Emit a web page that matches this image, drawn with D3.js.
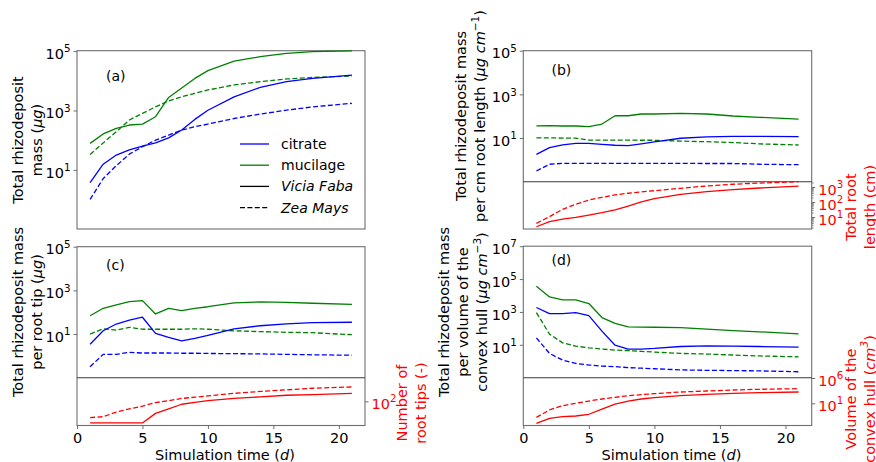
<!DOCTYPE html>
<html><head><meta charset="utf-8">
<script src="https://cdn.jsdelivr.net/npm/d3@7"></script>
<style>
body{margin:0;background:#fff}
svg{display:block}
text{font-family:"DejaVu Sans",sans-serif;fill:#000}
</style>
</head><body>
<svg id="fig" width="876" height="462"></svg>
<script>
// Simulation days at which the outputs are reported
const days = [1,2,3,4,5,6,7,8,9,10,12,14,16,18,21];
const xTicks = [0,5,10,15,20];

// (a) total rhizodeposit mass (µg)
const aCitrateVicia  = [3.7,15.5,31.6,46.8,63.1,81.3,120,219,501,1020,2880,6030,9330,12000,15500];
const aCitrateZea    = [1.02,5.1,13.8,33.9,60.3,100,148,219,282,347,537,759,1020,1320,1740];
const aMucilageVicia = [78,162,251,324,347,617,2750,5750,12000,21900,45700,64600,83200,95500,102000];
const aMucilageZea   = [33,81,191,479,794,1320,2090,2880,3800,4900,7240,9330,11500,12900,14500];
const aTicks = [1e1,1e3,1e5];

// (b) per cm root length (µg cm^-1) and total root length (cm)
const bCitrateVicia  = [1.78,3.63,4.9,5.75,5.75,5.13,4.68,4.47,5.37,6.61,9.77,11.2,12.0,12.0,11.5];
const bCitrateZea    = [0.31,0.63,0.69,0.69,0.69,0.69,0.69,0.69,0.69,0.69,0.69,0.68,0.68,0.63,0.60];
const bMucilageVicia = [36.3,37.2,35.5,35.5,33.1,43.7,105,105,126,126,135,126,102,89,74];
const bMucilageZea   = [10.2,10.2,10.0,9.8,8.1,8.1,8.1,8.1,7.9,7.9,7.2,6.8,6.2,5.4,4.8];
const bLengthVicia   = [2.24,4.9,7.1,9.5,13.5,19.5,29.5,53.7,100,166,324,490,661,851,1120];
const bLengthZea     = [3.8,10.5,32.4,70.8,135,204,295,380,468,562,813,1170,1510,1820,2240];
const bTicks = [1e1,1e3,1e5];
const bRightTicks = [1e1,1e2,1e3];

// (c) per root tip (µg) and number of root tips (-)
const cCitrateVicia  = [3.4,14.1,28.8,43.7,58.9,10.7,7.1,4.9,6.3,8.7,17.4,24.0,29.5,33.1,34.7];
const cCitrateZea    = [0.32,1.17,1.17,1.45,1.35,1.35,1.35,1.32,1.32,1.29,1.26,1.23,1.17,1.12,1.07];
const cMucilageVicia = [69,151,219,302,339,83,151,117,151,178,269,295,282,257,229];
const cMucilageZea   = [10,17.4,15.1,20.4,16.6,16.6,16.6,16.6,17.4,16.6,14.1,12.9,12.0,11.5,9.3];
const cTipsVicia     = [21,21,21,21,21,42,58,81,93,105,123,138,155,162,178];
const cTipsZea       = [31,33,46,58,71,91,105,123,135,148,178,204,229,257,282];
const cTicks = [1e1,1e3,1e5];
const cRightTicks = [1e2];

// (d) per volume of the convex hull (µg cm^-3) and hull volume (cm^3)
const dCitrateVicia  = [1860,794,794,912,603,68,9.5,5.5,5.5,6.0,7.9,8.7,8.3,7.9,7.2];
const dCitrateZea    = [26.3,3.0,1.17,0.74,0.59,0.51,0.47,0.41,0.38,0.35,0.30,0.28,0.27,0.26,0.23];
const dMucilageVicia = [36300,8130,5370,5370,3240,457,200,123,120,117,112,89,74,62,47];
const dMucilageZea   = [912,44.7,13.2,8.3,6.6,5.5,4.8,4.4,4.0,3.6,3.0,2.75,2.4,2.1,1.86];
const dVolumeVicia   = [0.0011,0.011,0.023,0.031,0.068,0.74,7.2,28,71,129,316,603,955,1260,1700];
const dVolumeZea     = [0.017,0.48,3.4,10,28,71,155,316,513,794,1700,2690,4270,5890,7760];
const dTicks = [1e1,1e3,1e5,1e7];
const dRightTicks = [1e1,1e6];

const BLUE = "#0000ff", GREEN = "#008000", RED = "#ff0000";
const SPINE = "#6e6e6e";
const DASH = "5,2.4";
const LW = 1.3;
const TICK_FS = 14.5, LABEL_FS = 14.5;

const svg = d3.select("#fig");

// rich text helper: parts = [{t, i (italic), sup (superscript)}]
function rich(sel, parts, supShift, supSize) {
  let raised = false;
  parts.forEach(p => {
    const ts = sel.append("tspan").text(p.t);
    if (p.i) ts.attr("font-style", "italic");
    if (p.sup && !raised) { ts.attr("dy", -supShift).attr("font-size", supSize); raised = true; }
    else if (p.sup) { ts.attr("font-size", supSize); }
    else if (raised) { ts.attr("dy", supShift); raised = false; }
  });
}

function powerLabel(sel, v, color) {
  const e = Math.round(Math.log10(v));
  sel.text(null);
  sel.append("tspan").text("10");
  sel.append("tspan").attr("dy", -6.6).attr("font-size", 10.3).text(String(e));
  if (color) sel.style("fill", color);
}

function addLine(g, x, y, vals, color, dashed) {
  g.append("path")
    .datum(vals.map((v, i) => [days[i], v]))
    .attr("fill", "none")
    .attr("stroke", color)
    .attr("stroke-width", LW)
    .attr("stroke-linejoin", "round")
    .attr("stroke-dasharray", dashed ? DASH : null)
    .attr("d", d3.line().x(d => x(d[0])).y(d => y(d[1])));
}

function styleAxis(g) {
  g.select(".domain").remove();
  g.selectAll(".tick line").attr("stroke", SPINE).attr("stroke-width", 1);
  g.selectAll(".tick text").attr("font-size", TICK_FS).attr("font-family", "DejaVu Sans");
}

function leftAxis(y, x0, ticks) {
  const g = svg.append("g").attr("transform", `translate(${x0},0)`)
    .call(d3.axisLeft(y).tickValues(ticks).tickSize(3.5).tickPadding(3));
  styleAxis(g);
  g.selectAll(".tick text").each(function (d) { powerLabel(d3.select(this), d); })
    .attr("dy", "0.5em");
}

function rightAxis(y, x1, ticks, minor) {
  if (minor) {
    const mg = svg.append("g").attr("transform", `translate(${x1},0)`)
      .call(d3.axisRight(y).tickValues(minor).tickSize(2).tickFormat(""));
    mg.select(".domain").remove();
    mg.selectAll(".tick line").attr("stroke", SPINE).attr("stroke-width", 0.8);
  }
  const g = svg.append("g").attr("transform", `translate(${x1},0)`)
    .call(d3.axisRight(y).tickValues(ticks).tickSize(3.5).tickPadding(3));
  styleAxis(g);
  g.selectAll(".tick text").each(function (d) { powerLabel(d3.select(this), d, RED); })
    .attr("dy", "0.5em");
}

function bottomAxis(x, y0) {
  const g = svg.append("g").attr("transform", `translate(0,${y0})`)
    .call(d3.axisBottom(x).tickValues(xTicks).tickSize(3.5).tickPadding(2.5));
  styleAxis(g);
  g.selectAll(".tick text").attr("dy", "0.78em");
}

function frame(x0, x1, top, bottom, divider) {
  svg.append("rect").attr("x", x0).attr("y", top).attr("width", x1 - x0).attr("height", bottom - top)
    .attr("fill", "none").attr("stroke", SPINE).attr("stroke-width", 1.1);
  if (divider != null) {
    svg.append("line").attr("x1", x0).attr("x2", x1).attr("y1", divider).attr("y2", divider)
      .attr("stroke", "#3a3a3a").attr("stroke-width", 1.1);
  }
}

function vLabel(cx, cy, lines, color, size) {
  const gap = 19;
  const n = lines.length;
  lines.forEach((parts, k) => {
    const x = cx + (k - (n - 1) / 2) * gap;
    const t = svg.append("text")
      .attr("transform", `translate(${x},${cy}) rotate(-90)`)
      .attr("text-anchor", "middle")
      .attr("dominant-baseline", "central")
      .attr("font-size", size || LABEL_FS);
    if (color) t.style("fill", color);
    rich(t, parts, 5.5, 10.5);
  });
}

function panelTag(x, y, s) {
  svg.append("text").attr("x", x).attr("y", y).attr("font-size", 14).text(s);
}

function minorTicks(lo, hi) {
  const out = [];
  for (let e = Math.floor(Math.log10(lo)); e <= Math.ceil(Math.log10(hi)); e++) {
    for (let k = 2; k <= 9; k++) {
      const v = k * Math.pow(10, e);
      if (v >= lo && v <= hi) out.push(v);
    }
  }
  return out;
}

// ---- layout
const L0 = 77, L1 = 365, R0 = 523.3, R1 = 811.7;
const xL = d3.scaleLinear().domain([0, 22]).range([L0, L1]);
const xR = d3.scaleLinear().domain([0, 22]).range([R0, R1]);

// ---- (a)
{
  const top = 50.7, bottom = 229;
  const y = d3.scaleLog().domain([0.102, 103000]).range([bottom, top]);
  frame(L0, L1, top, bottom);
  const g = svg.append("g");
  addLine(g, xL, y, aMucilageVicia, GREEN, false);
  addLine(g, xL, y, aMucilageZea, GREEN, true);
  addLine(g, xL, y, aCitrateVicia, BLUE, false);
  addLine(g, xL, y, aCitrateZea, BLUE, true);
  leftAxis(y, L0, aTicks);
  panelTag(106, 81, "(a)");
  vLabel(27, 140, [[{t:"Total rhizodeposit"}], [{t:"mass ("},{t:"μg",i:true},{t:")"}]]);

  // legend
  const items = [
    {label:[{t:"citrate"}], color:BLUE, dash:false},
    {label:[{t:"mucilage"}], color:GREEN, dash:false},
    {label:[{t:"Vicia",i:true},{t:" "},{t:"Faba",i:true}], color:"#000", dash:false},
    {label:[{t:"Zea",i:true},{t:" "},{t:"Mays",i:true}], color:"#000", dash:true}
  ];
  items.forEach((it, k) => {
    const yy = 144 + k * 21.2;
    svg.append("line").attr("x1", 240).attr("x2", 269).attr("y1", yy).attr("y2", yy)
      .attr("stroke", it.color).attr("stroke-width", LW)
      .attr("stroke-dasharray", it.dash ? DASH : null);
    const t = svg.append("text").attr("x", 281).attr("y", yy).attr("dominant-baseline", "central")
      .attr("font-size", 14);
    rich(t, it.label, 5, 10);
  });
}

// ---- (b)
{
  const top = 50.7, div = 181.7, bottom = 229;
  const y = d3.scaleLog().domain([0.1, 1e5]).range([div, top]);
  const yr = d3.scaleLog().domain([1.585, 2240]).range([bottom, div]);
  frame(R0, R1, top, bottom, div);
  const g = svg.append("g");
  addLine(g, xR, y, bMucilageVicia, GREEN, false);
  addLine(g, xR, y, bMucilageZea, GREEN, true);
  addLine(g, xR, y, bCitrateVicia, BLUE, false);
  addLine(g, xR, y, bCitrateZea, BLUE, true);
  addLine(g, xR, yr, bLengthVicia, RED, false);
  addLine(g, xR, yr, bLengthZea, RED, true);
  leftAxis(y, R0, bTicks);
  rightAxis(yr, R1, bRightTicks, minorTicks(1.585, 2240));
  panelTag(551.5, 74.5, "(b)");
  vLabel(470.5, 116, [[{t:"Total rhizodeposit mass"}],
    [{t:"per cm root length ("},{t:"μg",i:true},{t:" "},{t:"cm",i:true},{t:"−1",sup:true},{t:")"}]]);
  vLabel(860, 207, [[{t:"Total root"}], [{t:"length (cm)"}]], RED);
}

// ---- (c)
{
  const top = 246.7, div = 377.7, bottom = 425.5;
  const y = d3.scaleLog().domain([0.1, 1e5]).range([div, top]);
  const yr = d3.scaleLog().domain([17.5, 550]).range([bottom, div]);
  frame(L0, L1, top, bottom, div);
  const g = svg.append("g");
  addLine(g, xL, y, cMucilageVicia, GREEN, false);
  addLine(g, xL, y, cMucilageZea, GREEN, true);
  addLine(g, xL, y, cCitrateVicia, BLUE, false);
  addLine(g, xL, y, cCitrateZea, BLUE, true);
  addLine(g, xL, yr, cTipsVicia, RED, false);
  addLine(g, xL, yr, cTipsZea, RED, true);
  leftAxis(y, L0, cTicks);
  rightAxis(yr, L1, cRightTicks);
  bottomAxis(xL, bottom);
  panelTag(106, 270, "(c)");
  vLabel(27.5, 312, [[{t:"Total rhizodeposit mass"}], [{t:"per root tip ("},{t:"μg",i:true},{t:")"}]]);
  vLabel(411, 403, [[{t:"Number of"}], [{t:"root tips (-)"}]], RED);
  const xl = svg.append("text").attr("x", (L0 + L1) / 2 + 4).attr("y", 459.5)
    .attr("text-anchor", "middle").attr("font-size", LABEL_FS);
  rich(xl, [{t:"Simulation time ("},{t:"d",i:true},{t:")"}], 5, 10);
}

// ---- (d)
{
  const top = 246.2, div = 377.7, bottom = 425.5;
  const y = d3.scaleLog().domain([0.1, 1e7]).range([div, top]);
  const yr = d3.scaleLog().domain([4.1e-4, 1.15e6]).range([bottom, div]);
  frame(R0, R1, top, bottom, div);
  const g = svg.append("g");
  addLine(g, xR, y, dMucilageVicia, GREEN, false);
  addLine(g, xR, y, dMucilageZea, GREEN, true);
  addLine(g, xR, y, dCitrateVicia, BLUE, false);
  addLine(g, xR, y, dCitrateZea, BLUE, true);
  addLine(g, xR, yr, dVolumeVicia, RED, false);
  addLine(g, xR, yr, dVolumeZea, RED, true);
  leftAxis(y, R0, dTicks);
  rightAxis(yr, R1, dRightTicks);
  bottomAxis(xR, bottom);
  panelTag(551.5, 264.5, "(d)");
  vLabel(463, 312, [[{t:"Total rhizodeposit mass"}], [{t:"per volume of the"}],
    [{t:"convex hull ("},{t:"μg",i:true},{t:" "},{t:"cm",i:true},{t:"−3",sup:true},{t:")"}]]);
  vLabel(860, 399, [[{t:"Volume of the"}], [{t:"convex hull ("},{t:"cm",i:true},{t:"3",i:true,sup:true},{t:")"}]], RED);
  const xl = svg.append("text").attr("x", (R0 + R1) / 2 + 4).attr("y", 459.5)
    .attr("text-anchor", "middle").attr("font-size", LABEL_FS);
  rich(xl, [{t:"Simulation time ("},{t:"d",i:true},{t:")"}], 5, 10);
}
</script>
</body></html>
